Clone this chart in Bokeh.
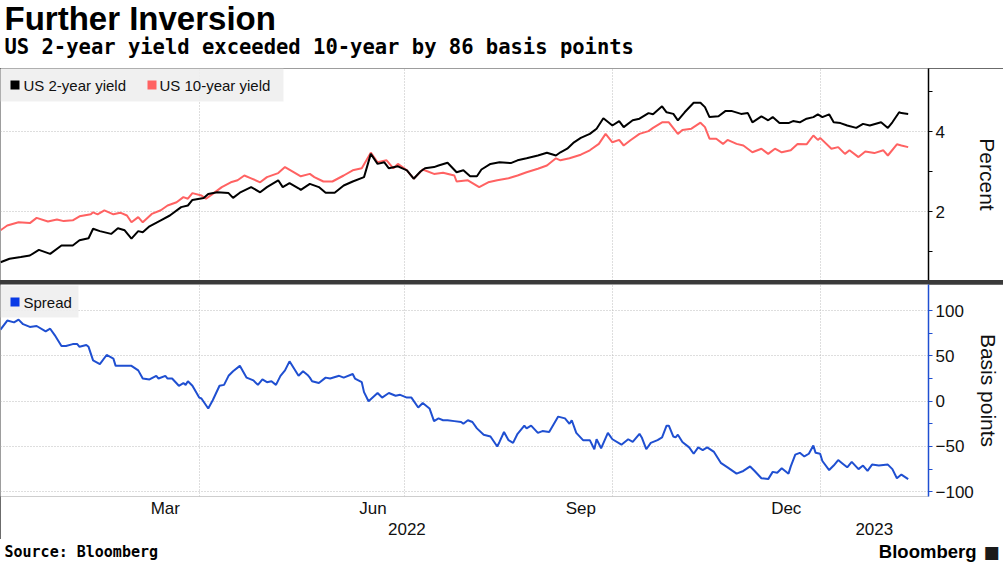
import pandas as pd
from bokeh.plotting import figure
from bokeh.models import (FixedTicker, DatetimeTickFormatter, DatetimeAxis, Label,
                          BoxAnnotation, Range1d)
from bokeh.layouts import column
from bokeh.embed import file_html
from bokeh.resources import INLINE

# ---------------- data ----------------
title_text = "Further Inversion"
subtitle_text = "US 2-year yield exceeded 10-year by 86 basis points"
source_text = "Source: Bloomberg"
brand_text = "Bloomberg"
legend_top = ["US 2-year yield", "US 10-year yield"]
legend_bottom = ["Spread"]

two_year_dates = [
    "2022-01-03", "2022-01-07", "2022-01-12", "2022-01-16", "2022-01-20", "2022-01-25", "2022-01-30",
    "2022-02-04", "2022-02-07", "2022-02-11", "2022-02-13", "2022-02-16", "2022-02-21", "2022-02-24",
    "2022-02-27", "2022-03-02", "2022-03-05", "2022-03-07", "2022-03-10", "2022-03-15", "2022-03-19",
    "2022-03-24", "2022-03-27", "2022-03-29", "2022-04-03", "2022-04-05", "2022-04-09", "2022-04-14",
    "2022-04-16", "2022-04-19", "2022-04-24", "2022-04-28", "2022-05-01", "2022-05-06", "2022-05-08",
    "2022-05-11", "2022-05-15", "2022-05-16", "2022-05-20", "2022-05-24", "2022-05-27", "2022-05-31",
    "2022-06-04", "2022-06-08", "2022-06-13", "2022-06-16", "2022-06-19", "2022-06-22", "2022-06-24",
    "2022-06-28", "2022-07-02", "2022-07-05", "2022-07-08", "2022-07-10", "2022-07-14", "2022-07-16",
    "2022-07-20", "2022-07-24", "2022-07-27", "2022-07-30", "2022-08-02", "2022-08-04", "2022-08-08",
    "2022-08-12", "2022-08-17", "2022-08-20", "2022-08-24", "2022-08-29", "2022-09-02", "2022-09-06",
    "2022-09-08", "2022-09-11", "2022-09-14", "2022-09-17", "2022-09-21", "2022-09-24", "2022-09-27",
    "2022-10-01", "2022-10-04", "2022-10-06", "2022-10-10", "2022-10-13", "2022-10-17", "2022-10-19",
    "2022-10-23", "2022-10-25", "2022-10-28", "2022-10-30", "2022-11-02", "2022-11-06", "2022-11-09",
    "2022-11-11", "2022-11-13", "2022-11-17", "2022-11-20", "2022-11-23", "2022-11-27", "2022-11-30",
    "2022-12-02", "2022-12-06", "2022-12-09", "2022-12-11", "2022-12-14", "2022-12-18", "2022-12-20",
    "2022-12-23", "2022-12-26", "2022-12-29", "2022-12-31", "2023-01-02", "2023-01-05", "2023-01-07",
    "2023-01-10", "2023-01-13", "2023-01-17", "2023-01-20", "2023-01-23", "2023-01-28", "2023-01-31",
    "2023-02-02", "2023-02-05", "2023-02-06", "2023-02-09",
]
two_year = [
    0.73, 0.82, 0.86, 0.90, 1.04, 0.94, 1.15,
    1.15, 1.28, 1.33, 1.57, 1.51, 1.44, 1.58,
    1.53, 1.32, 1.51, 1.48, 1.63, 1.78, 1.90,
    2.11, 2.15, 2.29, 2.34, 2.44, 2.48, 2.46,
    2.34, 2.47, 2.61, 2.48, 2.61, 2.78, 2.61,
    2.71, 2.58, 2.54, 2.69, 2.61, 2.47, 2.47,
    2.65, 2.75, 2.86, 3.44, 3.19, 3.23, 3.08,
    3.13, 3.03, 2.82, 3.00, 3.08, 3.11, 3.15,
    3.22, 2.98, 3.03, 2.88, 2.88, 3.05, 3.19,
    3.23, 3.21, 3.28, 3.33, 3.40, 3.47, 3.40,
    3.48, 3.57, 3.73, 3.84, 3.94, 4.07, 4.33,
    4.15, 4.26, 4.11, 4.28, 4.32, 4.46, 4.43,
    4.63, 4.48, 4.44, 4.28, 4.48, 4.72, 4.72,
    4.61, 4.36, 4.38, 4.51, 4.51, 4.44, 4.46,
    4.23, 4.38, 4.28, 4.36, 4.21, 4.21, 4.26,
    4.23, 4.32, 4.36, 4.43, 4.36, 4.43, 4.23,
    4.21, 4.15, 4.09, 4.19, 4.15, 4.23, 4.09,
    4.23, 4.48, 4.46, 4.44,
]

ten_year_dates = [
    "2022-01-03", "2022-01-06", "2022-01-11", "2022-01-16", "2022-01-19", "2022-01-24", "2022-01-28",
    "2022-01-31", "2022-02-04", "2022-02-07", "2022-02-12", "2022-02-13", "2022-02-15", "2022-02-18",
    "2022-02-22", "2022-02-25", "2022-02-28", "2022-03-02", "2022-03-05", "2022-03-07", "2022-03-11",
    "2022-03-15", "2022-03-18", "2022-03-22", "2022-03-25", "2022-03-27", "2022-03-29", "2022-04-02",
    "2022-04-04", "2022-04-07", "2022-04-11", "2022-04-15", "2022-04-18", "2022-04-21", "2022-04-24",
    "2022-04-28", "2022-05-01", "2022-05-06", "2022-05-09", "2022-05-13", "2022-05-16", "2022-05-20",
    "2022-05-22", "2022-05-26", "2022-05-30", "2022-06-04", "2022-06-08", "2022-06-12", "2022-06-16",
    "2022-06-19", "2022-06-23", "2022-06-26", "2022-06-28", "2022-07-02", "2022-07-05", "2022-07-09",
    "2022-07-14", "2022-07-18", "2022-07-23", "2022-07-24", "2022-07-29", "2022-08-03", "2022-08-07",
    "2022-08-11", "2022-08-16", "2022-08-20", "2022-08-24", "2022-08-29", "2022-09-02", "2022-09-06",
    "2022-09-08", "2022-09-12", "2022-09-17", "2022-09-21", "2022-09-25", "2022-09-28", "2022-10-01",
    "2022-10-04", "2022-10-06", "2022-10-09", "2022-10-13", "2022-10-17", "2022-10-19", "2022-10-23",
    "2022-10-26", "2022-10-30", "2022-11-01", "2022-11-05", "2022-11-09", "2022-11-11", "2022-11-13",
    "2022-11-16", "2022-11-19", "2022-11-21", "2022-11-25", "2022-11-28", "2022-12-02", "2022-12-06",
    "2022-12-09", "2022-12-12", "2022-12-15", "2022-12-19", "2022-12-22", "2022-12-26", "2022-12-29",
    "2022-12-31", "2023-01-01", "2023-01-06", "2023-01-09", "2023-01-12", "2023-01-14", "2023-01-18",
    "2023-01-21", "2023-01-25", "2023-01-29", "2023-01-31", "2023-02-04", "2023-02-06", "2023-02-09",
]
ten_year = [
    1.53, 1.65, 1.73, 1.71, 1.84, 1.75, 1.80,
    1.76, 1.78, 1.88, 1.93, 1.98, 1.93, 2.03,
    1.93, 1.97, 1.90, 1.73, 1.86, 1.73, 1.94,
    2.03, 2.15, 2.23, 2.36, 2.32, 2.46, 2.40,
    2.32, 2.44, 2.61, 2.73, 2.78, 2.90, 2.83,
    2.73, 2.86, 2.96, 3.11, 2.98, 2.88, 2.94,
    2.86, 2.75, 2.75, 2.90, 3.03, 3.08, 3.47,
    3.23, 3.28, 3.08, 3.19, 3.03, 2.82, 3.05,
    2.94, 2.97, 2.90, 2.75, 2.78, 2.61, 2.73,
    2.78, 2.83, 2.90, 2.98, 3.07, 3.15, 3.33,
    3.28, 3.33, 3.42, 3.53, 3.69, 3.94, 3.73,
    3.79, 3.65, 3.78, 3.94, 4.01, 4.09, 4.23,
    4.23, 3.94, 4.04, 4.07, 4.22, 4.11, 3.82,
    3.82, 3.69, 3.79, 3.69, 3.65, 3.48, 3.57,
    3.44, 3.57, 3.48, 3.53, 3.69, 3.68, 3.90,
    3.79, 3.84, 3.57, 3.61, 3.44, 3.53, 3.36,
    3.50, 3.46, 3.53, 3.40, 3.68, 3.65, 3.61,
]

spread_dates = [
    "2022-01-03", "2022-01-06", "2022-01-09", "2022-01-11", "2022-01-13", "2022-01-16", "2022-01-19",
    "2022-01-23", "2022-01-25", "2022-01-27", "2022-01-30", "2022-02-01", "2022-02-04", "2022-02-06",
    "2022-02-07", "2022-02-10", "2022-02-11", "2022-02-13", "2022-02-16", "2022-02-19", "2022-02-22",
    "2022-02-23", "2022-02-26", "2022-03-02", "2022-03-05", "2022-03-07", "2022-03-10", "2022-03-13",
    "2022-03-14", "2022-03-17", "2022-03-18", "2022-03-20", "2022-03-23", "2022-03-25", "2022-03-26",
    "2022-03-27", "2022-03-29", "2022-04-01", "2022-04-02", "2022-04-05", "2022-04-07", "2022-04-10",
    "2022-04-12", "2022-04-14", "2022-04-16", "2022-04-19", "2022-04-22", "2022-04-25", "2022-04-27",
    "2022-04-29", "2022-05-01", "2022-05-03", "2022-05-05", "2022-05-07", "2022-05-09", "2022-05-11",
    "2022-05-15", "2022-05-17", "2022-05-19", "2022-05-20", "2022-05-21", "2022-05-24", "2022-05-27",
    "2022-05-29", "2022-06-02", "2022-06-04", "2022-06-08", "2022-06-09", "2022-06-12", "2022-06-13",
    "2022-06-15", "2022-06-19", "2022-06-21", "2022-06-24", "2022-06-27", "2022-06-29", "2022-07-02",
    "2022-07-04", "2022-07-07", "2022-07-09", "2022-07-12", "2022-07-14", "2022-07-16", "2022-07-18",
    "2022-07-20", "2022-07-23", "2022-07-26", "2022-07-27", "2022-07-29", "2022-07-31", "2022-08-02",
    "2022-08-05", "2022-08-08", "2022-08-11", "2022-08-12", "2022-08-14", "2022-08-16", "2022-08-18",
    "2022-08-20", "2022-08-23", "2022-08-24", "2022-08-26", "2022-08-29", "2022-08-31", "2022-09-03",
    "2022-09-07", "2022-09-10", "2022-09-12", "2022-09-13", "2022-09-15", "2022-09-18", "2022-09-21",
    "2022-09-23", "2022-09-24", "2022-09-26", "2022-09-29", "2022-10-01", "2022-10-05", "2022-10-08",
    "2022-10-10", "2022-10-13", "2022-10-14", "2022-10-16", "2022-10-18", "2022-10-21", "2022-10-23",
    "2022-10-25", "2022-10-26", "2022-10-28", "2022-10-29", "2022-10-30", "2022-11-01", "2022-11-04",
    "2022-11-06", "2022-11-08", "2022-11-10", "2022-11-12", "2022-11-15", "2022-11-18", "2022-11-21",
    "2022-11-25", "2022-11-28", "2022-12-01", "2022-12-03", "2022-12-06", "2022-12-09", "2022-12-11",
    "2022-12-13", "2022-12-15", "2022-12-18", "2022-12-19", "2022-12-21", "2022-12-23", "2022-12-25",
    "2022-12-27", "2022-12-29", "2022-12-30", "2023-01-01", "2023-01-02", "2023-01-05", "2023-01-07",
    "2023-01-09", "2023-01-11", "2023-01-13", "2023-01-15", "2023-01-18", "2023-01-20", "2023-01-22",
    "2023-01-24", "2023-01-27", "2023-01-31", "2023-02-02", "2023-02-04", "2023-02-06", "2023-02-09",
]
spread_bp = [
    79, 89, 87, 90, 85, 82, 83,
    77, 80, 73, 61, 61, 63, 63,
    60, 62, 60, 45, 41, 51, 47,
    39, 39, 39, 34, 25, 24, 28,
    25, 28, 25, 25, 17, 20, 18,
    22, 17, 4, 3, -8, 1, 17,
    18, 28, 33, 39, 26, 23, 18,
    24, 21, 22, 18, 28, 34, 44,
    28, 33, 29, 26, 22, 20, 26,
    25, 28, 26, 30, 25, 21, 10,
    0, 9, 4, 9, 6, 7, 4,
    4, -7, -2, -8, -22, -19, -21,
    -21, -22, -23, -25, -21, -23, -30,
    -37, -39, -50, -45, -34, -43, -46,
    -36, -27, -30, -27, -35, -33, -34,
    -17, -19, -25, -21, -35, -43, -43,
    -53, -42, -52, -35, -42, -48, -42,
    -45, -36, -40, -53, -46, -43, -40,
    -27, -27, -39, -40, -37, -45, -51,
    -58, -51, -54, -51, -56, -68, -73,
    -80, -77, -72, -77, -85, -86, -78,
    -79, -74, -80, -72, -59, -57, -61,
    -58, -49, -57, -58, -66, -76, -71,
    -65, -69, -73, -67, -75, -71, -77,
    -70, -71, -70, -75, -85, -81, -86,
]

month_label_dates = ["2022-03-17", "2022-06-17", "2022-09-17", "2022-12-17"]
year_label_dates = ["2022-07-02", "2023-01-25"]
grid_dates = ["2022-04-01", "2022-07-01", "2022-10-01", "2023-01-01"]
pct_ticks = [2, 4]
pct_minor_ticks = [1, 3, 5]
bp_ticks = [-100, -50, 0, 50, 100]
bp_minor_ticks = [-75, -25, 25, 75]

# ---------------- styling ----------------
BLACK = "#000000"
RED = "#ff6262"
BLUE = "#1f4fd1"
BLUE_SQ = "#0a3be6"
GRID = "#bdbdbd"
LEG_BG = "#eeeeee"
FONT = "Liberation Sans"
W = 1003
FH = 212  # frame height of each panel
AXIS_BORDER = 43
FOOTER_H = 564 - 68 - FH - 4 - FH - AXIS_BORDER


def ms(d):
    return pd.Timestamp(d).value / 1e6


def blank_figure(height):
    f = figure(width=W, height=height, x_range=Range1d(0, W), y_range=Range1d(0, height),
               toolbar_location=None, output_backend="svg",
               x_axis_location=None, y_axis_location=None,
               min_border=0, min_border_left=0, min_border_right=0,
               min_border_top=0, min_border_bottom=0)
    f.outline_line_color = None
    f.xgrid.visible = False
    f.ygrid.visible = False
    return f


def screen_box(p, left, right, top, bottom, color, alpha=1.0):
    p.add_layout(BoxAnnotation(left=left, right=right, top=top, bottom=bottom,
                               left_units="screen", right_units="screen",
                               top_units="screen", bottom_units="screen",
                               fill_color=color, fill_alpha=alpha, line_color=None))


x_range = Range1d(pd.Timestamp("2022-01-03"), pd.Timestamp("2023-02-18"))


def style_common(p):
    p.outline_line_color = None
    p.xgrid.ticker = FixedTicker(ticks=[ms(d) for d in grid_dates])
    for g in (p.xgrid, p.ygrid):
        g.grid_line_color = GRID
        g.grid_line_dash = "1 2"
        g.grid_line_width = 1


def style_yaxis(ax, color, label):
    ax.axis_line_color = color
    ax.axis_line_width = 1.5
    ax.major_tick_line_color = color
    ax.minor_tick_line_color = color
    ax.major_tick_in = 0
    ax.major_tick_out = 4
    ax.minor_tick_in = 0
    ax.minor_tick_out = 4
    ax.major_label_text_font = FONT
    ax.major_label_text_font_size = "17px"
    ax.major_label_text_color = "#111111"
    ax.major_label_standoff = 3
    ax.axis_label = label
    ax.axis_label_text_font = FONT
    ax.axis_label_text_font_size = "21px"
    ax.axis_label_text_font_style = "normal"
    ax.axis_label_text_color = "#111111"


# ---------------- header (title + subtitle) ----------------
header = blank_figure(68)
header.add_layout(Label(x=4, y=50, x_units="screen", y_units="screen", text=title_text,
                        text_font=FONT, text_font_style="bold", text_font_size="33px",
                        text_color="#000000", text_baseline="middle"))
header.add_layout(Label(x=4, y=21.5, x_units="screen", y_units="screen", text=subtitle_text,
                        text_font="DejaVu Sans Mono", text_font_style="bold",
                        text_font_size="20.5px", text_color="#000000",
                        text_baseline="middle"))

# ---------------- top panel: yields ----------------
p1 = figure(width=W, height=FH, x_axis_type="datetime", x_range=x_range,
            y_range=Range1d(0.275, 5.575), y_axis_location="right", x_axis_location=None,
            toolbar_location=None, output_backend="svg",
            min_border_left=0, min_border_right=75, min_border_top=0, min_border_bottom=0)
style_common(p1)
ax1 = p1.yaxis[0]
ax1.ticker = FixedTicker(ticks=pct_ticks, minor_ticks=pct_minor_ticks)
style_yaxis(ax1, BLACK, "Percent")
ax1.axis_label_standoff = 28

p1.line(pd.to_datetime(ten_year_dates), ten_year, line_color=RED, line_width=2)
p1.line(pd.to_datetime(two_year_dates), two_year, line_color=BLACK, line_width=2)

screen_box(p1, 0, 283, FH, FH - 33, LEG_BG, 0.9)
screen_box(p1, 10, 19, FH - 12, FH - 21, BLACK)
screen_box(p1, 147, 156, FH - 12, FH - 21, RED)
for xx, txt in zip([23, 159], legend_top):
    p1.add_layout(Label(x=xx, y=FH - 16.5, x_units="screen", y_units="screen", text=txt,
                        text_font=FONT, text_font_size="15px", text_color="#111111",
                        text_baseline="middle"))

# ---------------- bottom panel: spread ----------------
p2 = figure(width=W, height=FH + AXIS_BORDER, x_axis_type="datetime", x_range=x_range,
            y_range=Range1d(-105.2, 128.8), y_axis_location="right",
            toolbar_location=None, output_backend="svg",
            min_border_left=0, min_border_right=75, min_border_top=0,
            min_border_bottom=AXIS_BORDER)
style_common(p2)
ax2 = p2.yaxis[0]
ax2.ticker = FixedTicker(ticks=bp_ticks, minor_ticks=bp_minor_ticks)
style_yaxis(ax2, BLUE, "Basis points")
ax2.axis_label_standoff = 0

p2.line(pd.to_datetime(spread_dates), spread_bp, line_color=BLUE, line_width=2)

fmt_kw = ["microseconds", "milliseconds", "seconds", "minsec", "minutes", "hourmin",
          "hours", "days", "months", "years"]
xa = p2.xaxis[0]
xa.ticker = FixedTicker(ticks=[ms(d) for d in month_label_dates])
xa.formatter = DatetimeTickFormatter(**{k: "%b" for k in fmt_kw})
ya = DatetimeAxis(ticker=FixedTicker(ticks=[ms(d) for d in year_label_dates]),
                  formatter=DatetimeTickFormatter(**{k: "%Y" for k in fmt_kw}))
p2.add_layout(ya, "below")
for a in (xa, ya):
    a.axis_line_color = None
    a.major_tick_line_color = None
    a.minor_tick_line_color = None
    a.major_tick_out = 0
    a.major_tick_in = 0
    a.major_label_text_font = FONT
    a.major_label_text_font_size = "17px"
    a.major_label_text_color = "#111111"
xa.major_label_standoff = 2
ya.major_label_standoff = 2

screen_box(p2, 0, 78, FH - 1, FH - 33, LEG_BG, 0.9)
screen_box(p2, 10, 19, FH - 13, FH - 22, BLUE_SQ)
p2.add_layout(Label(x=23, y=FH - 18, x_units="screen", y_units="screen", text=legend_bottom[0],
                    text_font=FONT, text_font_size="15px", text_color="#111111",
                    text_baseline="middle"))

# ---------------- footer ----------------
footer = blank_figure(FOOTER_H)
footer.add_layout(Label(x=4, y=13, x_units="screen", y_units="screen", text=source_text,
                        text_font="DejaVu Sans Mono", text_font_style="bold",
                        text_font_size="15px", text_color="#000000",
                        text_baseline="middle"))
footer.add_layout(Label(x=976, y=13, x_units="screen", y_units="screen", text=brand_text,
                        text_font=FONT, text_font_style="bold", text_font_size="18.5px",
                        text_color="#000000", text_baseline="middle", text_align="right"))
footer.add_layout(Label(x=991, y=13, x_units="screen", y_units="screen", text="\u25A0",
                        text_font="DejaVu Sans", text_font_size="17px",
                        text_color="#1a1a1a", text_baseline="middle", text_align="center"))

panels = column(p1, p2, spacing=4, styles={"background-color": "#3a3a3a"})
root = column(header, panels, footer, spacing=0)

open("out.html", "w").write(file_html(root, INLINE))
